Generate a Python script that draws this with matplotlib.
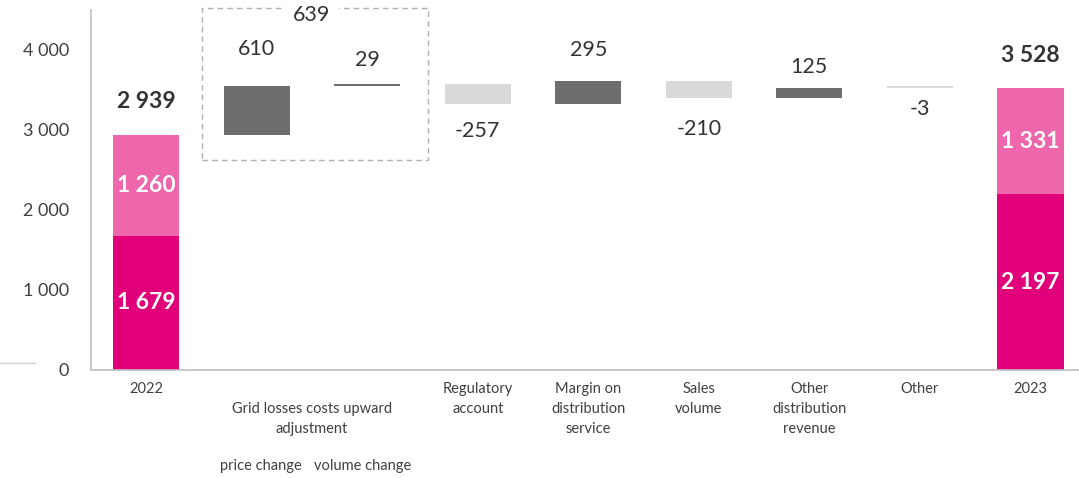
import matplotlib.pyplot as plt
from matplotlib.patches import Rectangle
from matplotlib.lines import Line2D

plt.rcParams['font.family'] = ['Lato', 'DejaVu Sans']

# Waterfall data (EUR m)
categories = ['2022', 'price change', 'volume change', 'Regulatory\naccount',
              'Margin on\ndistribution\nservice', 'Sales\nvolume',
              'Other\ndistribution\nrevenue', 'Other', '2023']
start_parts = [1679, 1260]
end_parts = [2197, 1331]
changes = [610, 29, -257, 295, -210, 125, -3]
grid_losses_total = 639

pink_dark = '#e2007a'
pink_light = '#ee66ac'
up_col = '#6d6d6d'
down_col = '#d9d9d9'
text_col = '#404040'
val_col = '#333333'

# label offsets in points (above for increases, below for decreases)
label_offsets = [29, 19, 19, 24, 23, 17, 15]


def fmt(v):
    return f'{v:,}'.replace(',', ' ')


fig = plt.figure(figsize=(10.79, 4.78), dpi=100)
ax = fig.add_axes([91 / 1079, 108 / 478, 988 / 1079, 360 / 478])

width = 0.6
n = len(categories)

# opening and closing stacked bars
for x, parts in [(0, start_parts), (n - 1, end_parts)]:
    ax.bar(x, parts[0], width, color=pink_dark)
    ax.bar(x, parts[1], width, bottom=parts[0], color=pink_light)
    ax.text(x, parts[0] / 2, fmt(parts[0]), ha='center', va='center',
            color='white', fontsize=16.5, fontweight='bold')
    ax.text(x, parts[0] + parts[1] / 2, fmt(parts[1]), ha='center', va='center',
            color='white', fontsize=16.5, fontweight='bold')

start_total = sum(start_parts)
end_total = sum(end_parts)
ax.annotate(fmt(start_total), (0, start_total), xytext=(0, 24),
            textcoords='offset points', ha='center', va='center',
            fontsize=16.5, fontweight='bold', color=val_col)
ax.annotate(fmt(end_total), (n - 1, end_total), xytext=(0, 23),
            textcoords='offset points', ha='center', va='center',
            fontsize=16.5, fontweight='bold', color=val_col)

# floating change bars
level = start_total
for i, (c, off) in enumerate(zip(changes, label_offsets)):
    x = i + 1
    lo, hi = min(level, level + c), max(level, level + c)
    col = up_col if c > 0 else down_col
    height = max(hi - lo, 25)
    ax.bar(x, height, width, bottom=hi - height if c > 0 else lo, color=col)
    if c > 0:
        ax.annotate(str(c), (x, hi), xytext=(0, off - 2), textcoords='offset points',
                    ha='center', va='center', fontsize=15.5, color=val_col)
    else:
        ax.annotate(str(c), (x, lo), xytext=(0, -off), textcoords='offset points',
                    ha='center', va='center', fontsize=15.5, color=val_col)
    level += c

# dashed box around the grid losses pair
ax.add_patch(Rectangle((0.507, 2625), 2.045, 1900, fill=False, ls=(0, (4, 3)),
                       ec='#b0b0b0', lw=1, clip_on=False))
ax.text(1.5, 4440, str(grid_losses_total), ha='center', va='center', fontsize=15.5,
        color=val_col, clip_on=False,
        bbox=dict(fc='white', ec='none', pad=6))

# category labels
for i, lab in enumerate(categories):
    if i in (1, 2):
        ax.text(1.5 + (i - 1.5) * 0.92, -1200, lab, ha='center', va='center',
                fontsize=10.5, color=text_col)
    else:
        ax.text(i, -150, lab, ha='center', va='top', fontsize=10.5, color=text_col,
                linespacing=1.55)
ax.text(1.5, -400, 'Grid losses costs upward\nadjustment', ha='center', va='top',
        fontsize=10.5, color=text_col, linespacing=1.55)

ax.set_xlim(-0.5, 8.44)
ax.set_ylim(0, 4500)
ax.set_xticks([])
ax.set_yticks(range(0, 4001, 1000))
ax.set_yticklabels([fmt(v) for v in range(0, 4001, 1000)],
                   fontsize=13, color=text_col)
ax.tick_params(axis='y', length=0, pad=16)
for s in ['top', 'right']:
    ax.spines[s].set_visible(False)
for s in ['left', 'bottom']:
    ax.spines[s].set_color('#bfbfbf')
    ax.spines[s].set_linewidth(1.2)

fig.add_artist(Line2D([0, 35 / 1079], [115 / 478, 115 / 478], color='#d0d0d0', lw=1))

fig.savefig('out.png', dpi=100)
